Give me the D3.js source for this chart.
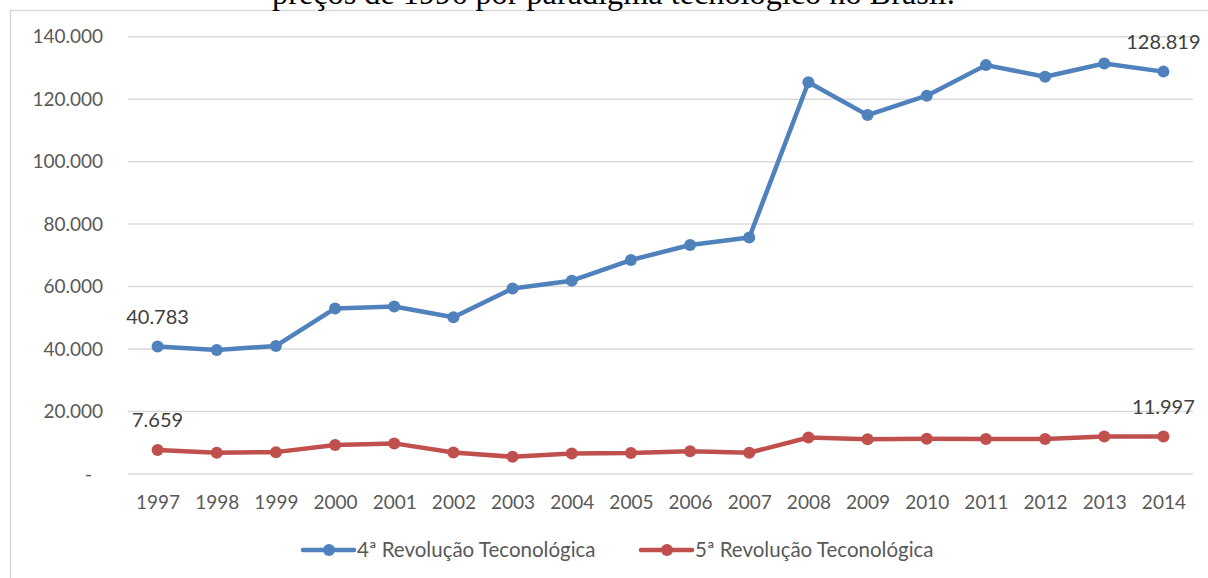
<!DOCTYPE html>
<html>
<head>
<meta charset="utf-8">
<script src="https://cdn.jsdelivr.net/npm/d3@7"></script>
<style>
  body { margin: 0; background: #fff; }
  svg { display: block; }
  .tick text { font-family: Lato, "Noto Sans", sans-serif; }
</style>
</head>
<body>
<div id="chart"></div>
<script>
// data
var years = ["1997","1998","1999","2000","2001","2002","2003","2004","2005",
             "2006","2007","2008","2009","2010","2011","2012","2013","2014"];
var quarta = [40783, 39700, 41000, 53000, 53600, 50200, 59400, 61900, 68500,
              73300, 75700, 125400, 114900, 121100, 130900, 127200, 131400, 128819];
var quinta = [7659, 6800, 7000, 9300, 9800, 6900, 5500, 6600, 6700,
              7300, 6800, 11700, 11100, 11300, 11200, 11200, 12000, 11997];
var yTicks = [0, 20000, 40000, 60000, 80000, 100000, 120000, 140000];
var seriesNames = ["4ª Revolução Teconológica", "5ª Revolução Teconológica"];
var seriesColors = ["#4f81bd", "#c0504d"];
var titleText = "preços de 1996 por paradigma tecnológico no Brasil.";

var W = 1208, H = 578;
var plot = { left: 128, right: 1193, top: 36.7, bottom: 474 };

var svg = d3.select("#chart").append("svg")
    .attr("width", W)
    .attr("height", H);

// chart frame (continues past the right and bottom edges)
svg.append("rect")
    .attr("x", 10.5).attr("y", 10.5)
    .attr("width", 1400).attr("height", 800)
    .attr("fill", "#fff")
    .attr("stroke", "#d9d9d9")
    .attr("stroke-width", 1.5);

// caption of the document above the chart, cut off by the top edge
var title = svg.append("text")
    .attr("x", 272).attr("y", 4)
    .style("font-family", "'Liberation Serif', 'Times New Roman', serif")
    .style("font-size", "26px")
    .attr("fill", "#000")
    .text(titleText);
var tw = title.node().getComputedTextLength();
title.style("font-size", (26 * 683 / tw) + "px");

var x = d3.scalePoint().domain(years).range([plot.left, plot.right]).padding(0.5);
var y = d3.scaleLinear().domain([0, 140000]).range([plot.bottom, plot.top]);

var br = d3.formatLocale({ decimal: ",", thousands: ".", grouping: [3], currency: ["R$", ""] });
var fmt = br.format(",.0f");

// gridlines
svg.append("g")
    .selectAll("line")
    .data(yTicks)
    .enter().append("line")
    .attr("x1", plot.left).attr("x2", plot.right)
    .attr("y1", function(d) { return y(d); })
    .attr("y2", function(d) { return y(d); })
    .attr("stroke", "#d9d9d9")
    .attr("stroke-width", 1.5);

// y axis labels
var yAxis = d3.axisLeft(y)
    .tickValues(yTicks)
    .tickSize(0)
    .tickPadding(25)
    .tickFormat(function(d) { return d === 0 ? "-" : fmt(d); });
var gy = svg.append("g")
    .attr("transform", "translate(" + plot.left + ",0)")
    .call(yAxis);
gy.select(".domain").remove();
gy.selectAll(".tick text")
    .style("font-size", "19px")
    .attr("fill", "#595959");
gy.selectAll(".tick text").filter(function(d) { return d === 0; })
    .attr("x", -36);

// x axis labels
var xAxis = d3.axisBottom(x).tickSize(0).tickPadding(22);
var gx = svg.append("g")
    .attr("transform", "translate(0," + plot.bottom + ")")
    .call(xAxis);
gx.select(".domain").remove();
gx.selectAll(".tick text")
    .style("font-size", "19px")
    .attr("fill", "#595959");

// lines and markers
var allSeries = [quarta, quinta];
var line = d3.line()
    .x(function(d, i) { return x(years[i]); })
    .y(function(d) { return y(d); });

allSeries.forEach(function(vals, s) {
    svg.append("path")
        .datum(vals)
        .attr("d", line)
        .attr("fill", "none")
        .attr("stroke", seriesColors[s])
        .attr("stroke-width", 4.5)
        .attr("stroke-linejoin", "round")
        .attr("stroke-linecap", "round");
    svg.append("g")
        .selectAll("circle")
        .data(vals)
        .enter().append("circle")
        .attr("cx", function(d, i) { return x(years[i]); })
        .attr("cy", function(d) { return y(d); })
        .attr("r", 6)
        .attr("fill", seriesColors[s]);

    // data labels on first and last point
    [0, vals.length - 1].forEach(function(i) {
        svg.append("text")
            .attr("x", x(years[i]))
            .attr("y", y(vals[i]) - 23)
            .attr("text-anchor", "middle")
            .style("font-family", "Lato, 'Noto Sans', sans-serif")
            .style("font-size", "20px")
            .attr("fill", "#404040")
            .text(fmt(vals[i]));
    });
});

// legend
var legendX = [303, 641];
seriesNames.forEach(function(name, s) {
    var g = svg.append("g").attr("transform", "translate(" + legendX[s] + ",550)");
    g.append("line")
        .attr("x1", 0).attr("x2", 51)
        .attr("stroke", seriesColors[s])
        .attr("stroke-width", 4.5)
        .attr("stroke-linecap", "round");
    g.append("circle")
        .attr("cx", 26).attr("r", 6)
        .attr("fill", seriesColors[s]);
    g.append("text")
        .attr("x", 54).attr("y", 7)
        .style("font-family", "Lato, 'Noto Sans', sans-serif")
        .style("font-size", "20.5px")
        .attr("fill", "#595959")
        .text(name);
});
</script>
</body>
</html>
